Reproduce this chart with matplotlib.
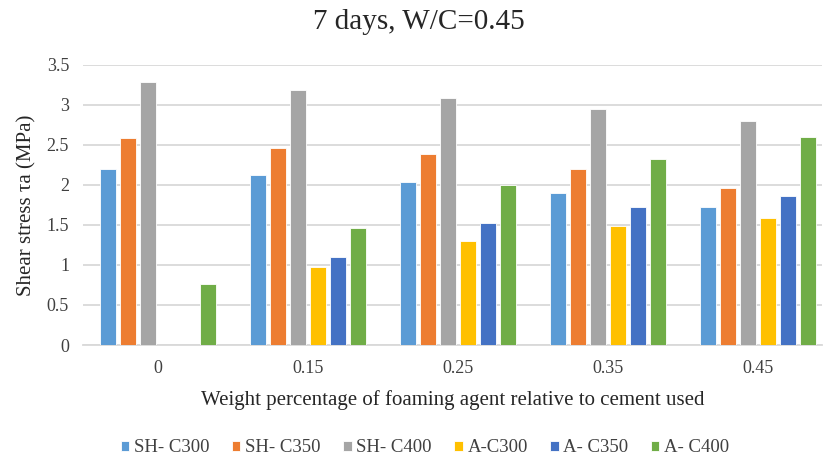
import matplotlib
matplotlib.use("Agg")
import matplotlib.pyplot as plt
import numpy as np

categories = ["0", "0.15", "0.25", "0.35", "0.45"]
series_names = ["SH- C300", "SH- C350", "SH- C400", "A-C300", "A- C350", "A- C400"]
sh_c300 = [2.20, 2.12, 2.04, 1.90, 1.72]
sh_c350 = [2.58, 2.46, 2.38, 2.20, 1.96]
sh_c400 = [3.29, 3.19, 3.09, 2.95, 2.80]
a_c300 = [0, 0.97, 1.30, 1.48, 1.58]
a_c350 = [0, 1.10, 1.52, 1.72, 1.86]
a_c400 = [0.76, 1.46, 2.00, 2.32, 2.60]
colors = ["#5B9BD5", "#ED7D31", "#A5A5A5", "#FFC000", "#4472C4", "#70AD47"]

plt.rcParams['font.family'] = ['Liberation Serif', 'DejaVu Serif']

fig = plt.figure(figsize=(8.23, 4.66), dpi=100)
ax = fig.add_axes([83/823, 1-345/466, (822-83)/823, (345-64.7)/466])

x = np.arange(len(categories))
pitch = 20/150
width = 16/150
all_series = [sh_c300, sh_c350, sh_c400, a_c300, a_c350, a_c400]
for i, (vals, c, name) in enumerate(zip(all_series, colors, series_names)):
    ax.bar(x + (i-2.5)*pitch, vals, width, color=c, label=name,
           edgecolor='white', linewidth=0.6, zorder=3)

ax.set_xlim(-0.5, 4.43)
ax.set_ylim(0, 3.5)
ax.set_yticks(np.arange(0, 3.51, 0.5))
ax.set_yticklabels(["0", "0.5", "1", "1.5", "2", "2.5", "3", "3.5"])
ax.set_xticks(x)
ax.set_xticklabels(categories)
ax.tick_params(axis='both', length=0, labelsize=13, colors='#404040')
ax.tick_params(axis='y', pad=10)
ax.tick_params(axis='x', pad=11)
ax.grid(axis='y', color='#D9D9D9', linewidth=1.3, zorder=0)
for s in ['top', 'right', 'left']:
    ax.spines[s].set_visible(False)
ax.spines['bottom'].set_color('#D9D9D9')
ax.spines['bottom'].set_linewidth(1.3)

ax.set_ylabel("Shear stress τa (MPa)", fontsize=15, color='#262626', labelpad=7)
ax.set_xlabel("Weight percentage of foaming agent relative to cement used",
              fontsize=15, color='#262626', labelpad=9.5)
fig.text(419/823, 1-22/466, "7 days, W/C=0.45", fontsize=21, ha='center',
         va='center', color='#262626')

fig.legend(loc='center', bbox_to_anchor=(425/823, 1-448/466), ncol=6,
           frameon=False, fontsize=13.5, handlelength=0.45, handleheight=0.45,
           handletextpad=0.25, columnspacing=1.2, labelcolor='#404040')

fig.savefig("out.png", dpi=100)
